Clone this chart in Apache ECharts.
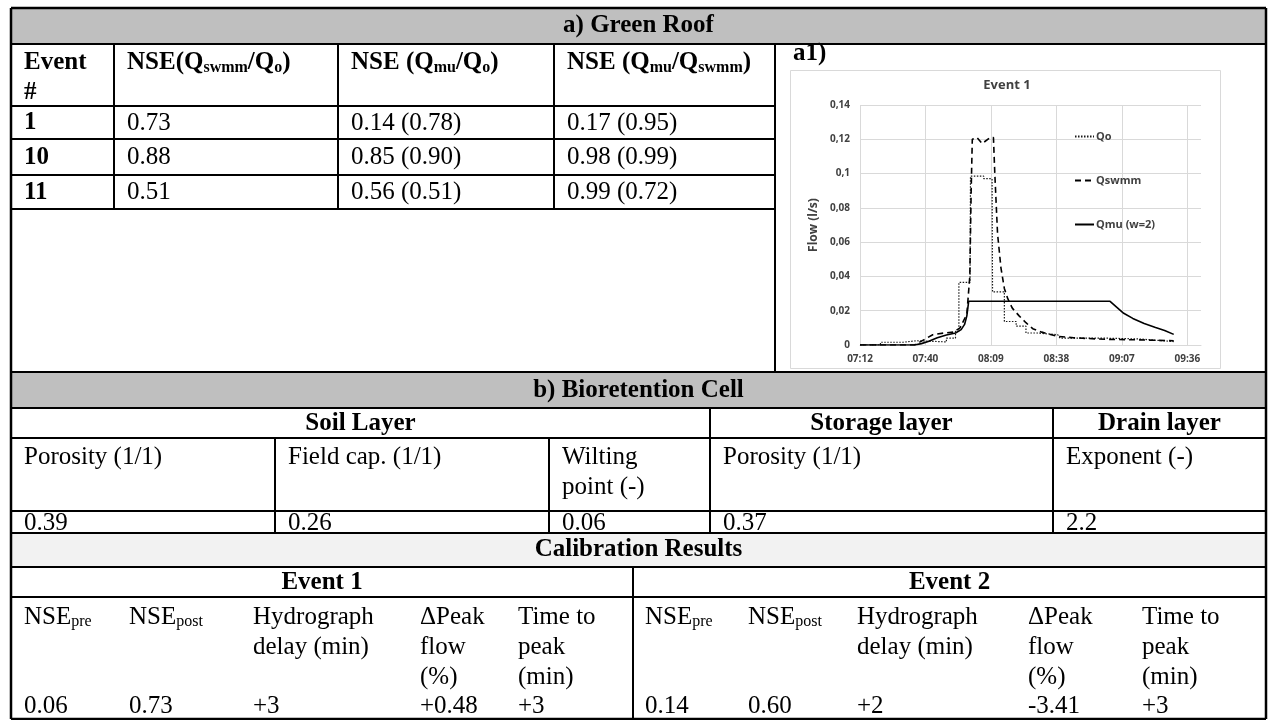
<!DOCTYPE html>
<html>
<head>
<meta charset="utf-8">
<script src="https://cdn.jsdelivr.net/npm/echarts@6/dist/echarts.min.js"></script>
<style>
  html, body { margin: 0; padding: 0; background: #fff; }
  #chart { width: 1269px; height: 720px; }
</style>
</head>
<body>
<div id="chart"></div>
<script>
// ---- Event 1 hydrographs: [time in minutes after midnight, flow in l/s] ----
const qoData = [
  [432, 0], [441, 0], [441, 0.0016], [451, 0.0016], [451, 0.0025], [457, 0.0025],
  [457, 0.0018], [470, 0.0018], [470, 0.004], [474, 0.004], [474, 0.008], [475.5, 0.008],
  [475.5, 0.0365], [480.4, 0.0365], [480.6, 0.0985], [486.4, 0.0985], [486.4, 0.097],
  [490.1, 0.097], [490.3, 0.031], [495.5, 0.031], [495.5, 0.0137], [500.7, 0.0137],
  [500.7, 0.011], [505, 0.011], [505, 0.007], [510, 0.007], [510, 0.006], [519, 0.006],
  [520, 0.004], [540, 0.004], [540, 0.0035], [555, 0.0035], [555, 0.003], [570, 0.002]
];
const qswmmData = [
  [432, 0], [456, 0], [460, 0.003], [464, 0.006], [469, 0.007], [473, 0.0075],
  [476, 0.01], [479, 0.018], [480.3, 0.04], [480.9, 0.09], [481.4, 0.12], [483.5, 0.121],
  [485.7, 0.1175], [489.3, 0.121], [490.7, 0.121], [491.3, 0.1], [492.5, 0.065],
  [494, 0.045], [495.5, 0.033], [497, 0.027], [499, 0.0215], [502, 0.017], [505, 0.013],
  [508, 0.0095], [512, 0.0075], [519, 0.005], [526, 0.0042], [540, 0.0033],
  [555, 0.003], [570, 0.0025]
];
const qmuData = [
  [432, 0], [456, 0], [459, 0.0008], [462, 0.002], [466, 0.0042], [470, 0.0058],
  [474, 0.007], [476.5, 0.009], [478, 0.012], [479, 0.017], [479.8, 0.0255],
  [542, 0.0255], [545, 0.022], [548, 0.0185], [552, 0.0155], [557, 0.0125],
  [562, 0.0102], [566, 0.0085], [570, 0.0062]
];
const seriesNames = ['Qo', 'Qswmm', 'Qmu (w=2)'];
const timeTicks = { min: 432, max: 582, step: 28.8 };   // 07:12 ... 09:36 every 0.02 day
const flowTicks = { min: 0, max: 0.14, step: 0.02 };

// ---- table text ----
const greenRoofTitle = 'a) Green Roof';
const greenRoofRows = [
  ['1', '0.73', '0.14 (0.78)', '0.17 (0.95)'],
  ['10', '0.88', '0.85 (0.90)', '0.98 (0.99)'],
  ['11', '0.51', '0.56 (0.51)', '0.99 (0.72)']
];
const bioTitle = 'b) Bioretention Cell';
const bioGroups = ['Soil Layer', 'Storage layer', 'Drain layer'];
const bioParams = [['Porosity (1/1)'], ['Field cap. (1/1)'], ['Wilting', 'point (-)'], ['Porosity (1/1)'], ['Exponent (-)']];
const bioValues = ['0.39', '0.26', '0.06', '0.37', '2.2'];
const calibTitle = 'Calibration Results';
const calibEvents = ['Event 1', 'Event 2'];
const calibHeads = [['NSE', 'pre'], ['NSE', 'post'], ['Hydrograph', 'delay (min)'], ['\u0394Peak', 'flow', '(%)'], ['Time to', 'peak', '(min)']];
const calibValues = [
  ['0.06', '0.73', '+3', '+0.48', '+3'],
  ['0.14', '0.60', '+2', '-3.41', '+3']
];

// ---- drawing helpers for the table ----
const SERIF = '"Liberation Serif", "Times New Roman", serif';
const SANS = '"Open Sans", "Liberation Sans", sans-serif';
const FS = 25, SUB = 16;
const els = [];

function box(x1, y1, x2, y2, fill) {
  els.push({ type: 'rect', z: 1, shape: { x: x1, y: y1, width: x2 - x1, height: y2 - y1 }, style: { fill: fill } });
}
function hl(x1, x2, y, w) {
  els.push({ type: 'line', z: 5, shape: { x1: x1, y1: y, x2: x2, y2: y }, style: { stroke: '#000', lineWidth: w || 2 } });
}
function vl(x, y1, y2, w) {
  els.push({ type: 'line', z: 5, shape: { x1: x, y1: y1, x2: x, y2: y2 }, style: { stroke: '#000', lineWidth: w || 2 } });
}
function tx(x, y, text, bold, align) {
  els.push({ type: 'text', z: 6, x: x, y: y, style: {
    text: text, fill: '#000', fontFamily: SERIF, fontSize: FS, fontWeight: bold ? 'bold' : 'normal',
    align: align || 'left', verticalAlign: 'middle' } });
}
const richStyles = {
  n:  { fontFamily: SERIF, fontSize: FS, fontWeight: 'normal', fill: '#000' },
  s:  { fontFamily: SERIF, fontSize: SUB, fontWeight: 'normal', fill: '#000', verticalAlign: 'bottom' },
  b:  { fontFamily: SERIF, fontSize: FS, fontWeight: 'bold', fill: '#000' },
  bs: { fontFamily: SERIF, fontSize: SUB, fontWeight: 'bold', fill: '#000', verticalAlign: 'bottom' }
};
function rtx(x, y, text) {
  els.push({ type: 'text', z: 6, x: x, y: y, style: { text: text, rich: richStyles, align: 'left', verticalAlign: 'middle' } });
}

// outer frame and section geometry
const L = 11, R = 1266, TOP = 8, BOT = 719;
const grCols = [L, 114, 338, 554, 775];
const bioCols = [L, 275, 549, 710, 1053, R];
const calMid = 633;
const pad = 13;

// section header fills
box(L, TOP, R, 44, '#bfbfbf');
box(L, 372, R, 408, '#bfbfbf');
box(L, 533, R, 567, '#f2f2f2');

// a) green roof
tx((L + R) / 2, 26, greenRoofTitle, true, 'center');
tx(grCols[0] + pad, 63, 'Event', true);
tx(grCols[0] + pad, 93, '#', true);
rtx(grCols[1] + pad, 63, '{b|NSE(Q}{bs|swmm}{b|/Q}{bs|o}{b|)}');
rtx(grCols[2] + pad, 63, '{b|NSE (Q}{bs|mu}{b|/Q}{bs|o}{b|)}');
rtx(grCols[3] + pad, 63, '{b|NSE (Q}{bs|mu}{b|/Q}{bs|swmm}{b|)}');
const grRowLines = [106, 139, 175, 209];
greenRoofRows.forEach(function (row, i) {
  const yc = (grRowLines[i] + grRowLines[i + 1]) / 2 + 0.5;
  row.forEach(function (cell, j) { tx(grCols[j] + pad, yc, cell, j === 0); });
});
grRowLines.forEach(function (y) { hl(L, 775, y); });
[114, 338, 554].forEach(function (x) { vl(x, 44, 209); });
vl(775, 44, 372);
tx(793, 54, 'a1)', true);

// b) bioretention cell
tx((L + R) / 2, 391, bioTitle, true, 'center');
tx((bioCols[0] + bioCols[3]) / 2, 424, bioGroups[0], true, 'center');
tx((bioCols[3] + bioCols[4]) / 2, 424, bioGroups[1], true, 'center');
tx((bioCols[4] + bioCols[5]) / 2, 424, bioGroups[2], true, 'center');
bioParams.forEach(function (lines, j) {
  lines.forEach(function (t, k) { tx(bioCols[j] + pad, 457 + k * 30, t, false); });
  tx(bioCols[j] + pad, 523, bioValues[j], false);
});
vl(710, 408, 533); vl(1053, 408, 533);
vl(275, 438, 533); vl(549, 438, 533);
[408, 438, 511].forEach(function (y) { hl(L, R, y); });

// calibration results
tx((L + R) / 2, 550, calibTitle, true, 'center');
tx((L + calMid) / 2, 583, calibEvents[0], true, 'center');
tx((calMid + R) / 2, 583, calibEvents[1], true, 'center');
const calX = [[24, 129, 253, 420, 518], [645, 748, 857, 1028, 1142]];
calX.forEach(function (xs, e) {
  calibHeads.forEach(function (lines, j) {
    if (j < 2) {
      rtx(xs[j], 617, '{n|' + lines[0] + '}{s|' + lines[1] + '}');
    } else {
      lines.forEach(function (t, k) { tx(xs[j], 617 + k * 30, t, false); });
    }
    tx(xs[j], 706, calibValues[e][j], false);
  });
});
hl(L, R, 567); hl(L, R, 597);
vl(calMid, 567, BOT);

// section borders
[44, 372, 533].forEach(function (y) { hl(L, R, y); });
hl(L, R, TOP, 2.5); hl(L, R, BOT, 2.5);
vl(L, TOP, BOT, 2.5); vl(R, TOP, BOT, 2.5);

// embedded hydrograph frame and title
els.push({ type: 'rect', z: 1, shape: { x: 790.5, y: 70.5, width: 430, height: 298 }, style: { fill: 'none', stroke: '#d9d9d9', lineWidth: 1 } });
els.push({ type: 'text', z: 6, x: 1007, y: 85, style: { text: 'Event 1', fill: '#404040', fontFamily: SANS, fontSize: 13, fontWeight: 'bold', align: 'center', verticalAlign: 'middle' } });

function fmtTime(v) {
  const m = Math.floor(v + 1e-6);
  const h = Math.floor(m / 60), mm = m % 60;
  return (h < 10 ? '0' : '') + h + ':' + (mm < 10 ? '0' : '') + mm;
}
function fmtFlow(v) {
  if (Math.abs(v) < 1e-9) return '0';
  return String(+v.toFixed(2)).replace('.', ',');
}

const chart = echarts.init(document.getElementById('chart'), null, { renderer: 'canvas' });
chart.setOption({
  animation: false,
  backgroundColor: '#fff',
  graphic: { elements: els },
  grid: { left: 860, top: 105, width: 341, height: 240 },
  legend: {
    orient: 'vertical', left: 1069, top: 126, itemWidth: 19, itemHeight: 10, itemGap: 33,
    data: seriesNames,
    itemStyle: { opacity: 0 },
    textStyle: { fontFamily: SANS, fontSize: 11, fontWeight: 'bold', color: '#404040', padding: [0, 0, 0, -3] }
  },
  xAxis: {
    type: 'value', min: timeTicks.min, max: timeTicks.max, interval: timeTicks.step,
    axisLine: { show: true, lineStyle: { color: '#d9d9d9', width: 1 } },
    axisTick: { show: false },
    splitLine: { show: true, showMaxLine: false, lineStyle: { color: '#d9d9d9', width: 1 } },
    axisLabel: { formatter: fmtTime, showMaxLabel: false, margin: 9, fontFamily: SANS, fontSize: 10, fontWeight: 'bold', color: '#404040' }
  },
  yAxis: {
    type: 'value', min: flowTicks.min, max: flowTicks.max, interval: flowTicks.step,
    name: 'Flow (l/s)', nameLocation: 'middle', nameGap: 40, nameRotate: 90,
    nameTextStyle: { fontFamily: SANS, fontSize: 12, fontWeight: 'bold', color: '#404040' },
    axisLine: { show: false }, axisTick: { show: false },
    splitLine: { show: true, lineStyle: { color: '#d9d9d9', width: 1 } },
    axisLabel: { formatter: fmtFlow, margin: 10, fontFamily: SANS, fontSize: 10, fontWeight: 'bold', color: '#404040' }
  },
  series: [
    { name: seriesNames[0], type: 'line', data: qoData, symbol: 'none', z: 3,
      lineStyle: { color: '#1a1a1a', width: 1.2, type: [1.5, 1.5] }, itemStyle: { color: '#1a1a1a' } },
    { name: seriesNames[1], type: 'line', data: qswmmData, symbol: 'none', z: 4,
      lineStyle: { color: '#000', width: 1.6, type: [6, 4] }, itemStyle: { color: '#000' } },
    { name: seriesNames[2], type: 'line', data: qmuData, symbol: 'none', z: 5,
      lineStyle: { color: '#000', width: 1.6, type: 'solid' }, itemStyle: { color: '#000' } }
  ]
});
</script>
</body>
</html>
